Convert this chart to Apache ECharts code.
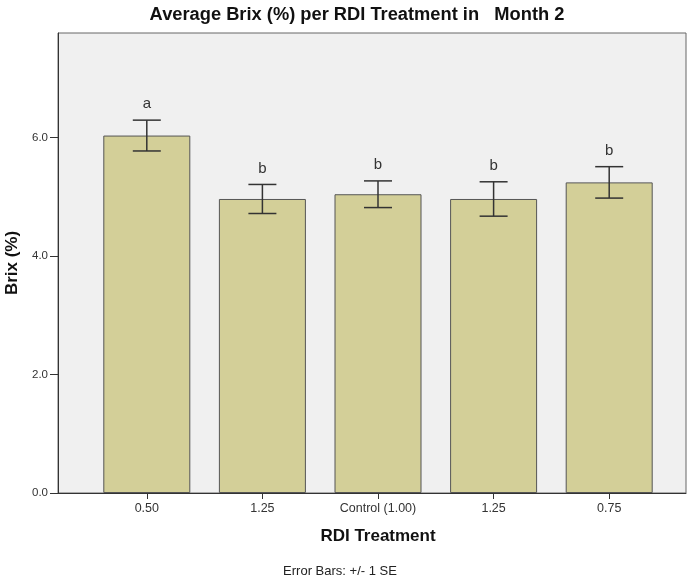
<!DOCTYPE html>
<html>
<head>
<meta charset="utf-8">
<script src="https://cdn.jsdelivr.net/npm/echarts@6/dist/echarts.min.js"></script>
<style>
  html, body { margin: 0; padding: 0; background: #fff; }
  #chart { width: 699px; height: 580px; }
</style>
</head>
<body>
<div id="chart"></div>
<script>
// data
const categories = ['0.50', '1.25', 'Control (1.00)', '1.25', '0.75'];
const brixMean = [6.03, 4.96, 5.04, 4.96, 5.24];
const brixSE = [0.26, 0.245, 0.225, 0.29, 0.265];
const groupLetters = ['a', 'b', 'b', 'b', 'b'];
const yTicks = [0, 2, 4, 6];

const chart = echarts.init(document.getElementById('chart'));

const errorData = brixMean.map((m, i) => [i, m - brixSE[i], m + brixSE[i]]);
const FONT = 'Liberation Sans, Arial, sans-serif';

const option = {
    animation: false,
    textStyle: { fontFamily: FONT },
    title: {
        text: 'Average Brix (%) per RDI Treatment in   Month 2',
        left: 357,
        textAlign: 'center',
        top: 6,
        padding: 0,
        textStyle: { fontSize: 18.3, fontWeight: 'bold', color: '#111' },
    },
    grid: [
        // frame / background
        {
            left: 58, right: 13, top: 33, bottom: 87,
            outerBoundsMode: 'none',
            show: true,
            backgroundColor: '#f0f0f0',
            borderColor: '#666',
            borderWidth: 1,
        },
        // bars
        { left: 89, right: 32, top: 33, bottom: 87, outerBoundsMode: 'none' },
    ],
    xAxis: [
        {
            gridIndex: 0,
            type: 'value',
            min: 0,
            max: 1,
            axisLine: { show: true, lineStyle: { color: '#333', width: 1 } },
            axisTick: { show: false },
            axisLabel: { show: false },
            splitLine: { show: false },
        },
        {
            gridIndex: 1,
            type: 'category',
            data: categories,
            name: 'RDI Treatment',
            nameLocation: 'middle',
            nameGap: 35,
            nameTextStyle: { fontSize: 17, fontWeight: 'bold', color: '#111' },
            axisLine: { show: false },
            axisTick: { show: true, alignWithLabel: true, length: 6, lineStyle: { color: '#333' } },
            axisLabel: { fontSize: 12.5, color: '#333', margin: 9, interval: 0 },
        },
    ],
    yAxis: [
        {
            gridIndex: 0,
            type: 'value',
            min: 0,
            max: 7.76,
            name: 'Brix (%)',
            nameLocation: 'middle',
            nameGap: 37,
            nameTextStyle: { fontSize: 17, fontWeight: 'bold', color: '#111' },
            axisLine: { show: true, lineStyle: { color: '#333', width: 1 } },
            axisTick: { show: true, length: 8, customValues: yTicks, lineStyle: { color: '#333' } },
            axisLabel: {
                fontSize: 11.5, color: '#333', margin: 10,
                customValues: yTicks,
                formatter: (v) => v.toFixed(1),
            },
            splitLine: { show: false },
        },
        {
            gridIndex: 1,
            type: 'value',
            min: 0,
            max: 7.76,
            show: false,
        },
    ],
    series: [
        {
            type: 'bar',
            xAxisIndex: 1,
            yAxisIndex: 1,
            data: brixMean,
            barWidth: 87,
            itemStyle: { color: '#d3cf98', borderColor: '#555', borderWidth: 1 },
        },
        {
            type: 'custom',
            xAxisIndex: 1,
            yAxisIndex: 1,
            data: errorData,
            z: 10,
            renderItem: (params, api) => {
                const x = api.coord([api.value(0), 0])[0];
                const lo = api.coord([api.value(0), api.value(1)])[1];
                const hi = api.coord([api.value(0), api.value(2)])[1];
                const half = 14;
                const style = { stroke: '#333', lineWidth: 1.5 };
                return {
                    type: 'group',
                    children: [
                        { type: 'line', shape: { x1: x, y1: lo, x2: x, y2: hi }, style },
                        { type: 'line', shape: { x1: x - half, y1: hi, x2: x + half, y2: hi }, style },
                        { type: 'line', shape: { x1: x - half, y1: lo, x2: x + half, y2: lo }, style },
                        {
                            type: 'text',
                            style: {
                                x: x,
                                y: hi - 16,
                                text: groupLetters[params.dataIndex],
                                fill: '#333',
                                fontSize: 15,
                                fontFamily: FONT,
                                align: 'center',
                                verticalAlign: 'middle',
                            },
                        },
                    ],
                };
            },
        },
    ],
    graphic: [
        {
            type: 'text',
            x: 340,
            y: 571,
            style: {
                text: 'Error Bars: +/- 1 SE',
                fill: '#222',
                fontSize: 13,
                fontFamily: FONT,
                align: 'center',
                verticalAlign: 'middle',
            },
        },
    ],
};

chart.setOption(option);
</script>
</body>
</html>
